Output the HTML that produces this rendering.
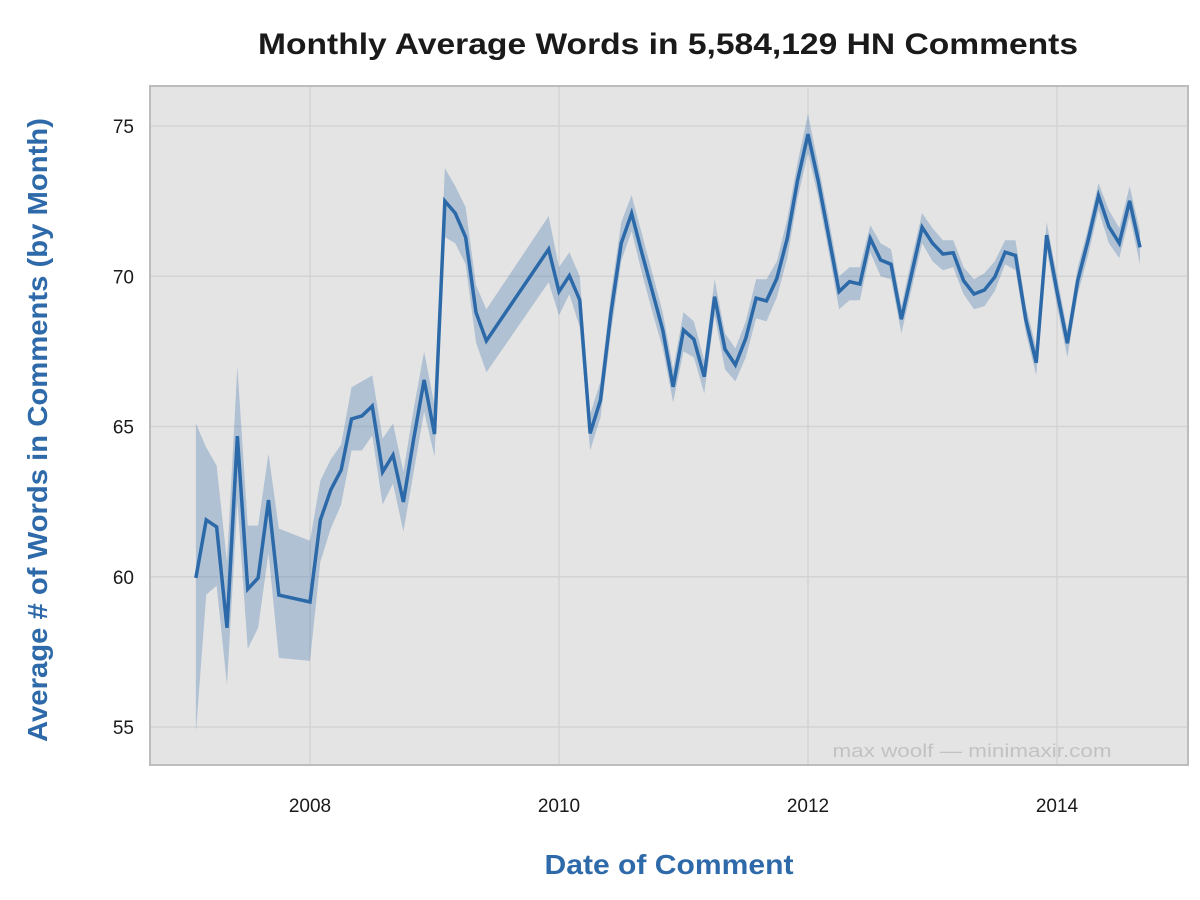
<!DOCTYPE html>
<html><head><meta charset="utf-8"><style>
html,body{margin:0;padding:0;background:#fff;}
svg{display:block;font-family:"Liberation Sans",sans-serif;}
</style></head><body>
<svg id="chart" width="1200" height="900" viewBox="0 0 1200 900">
<rect x="0" y="0" width="1200" height="900" fill="#fff"/>
<text x="668" y="54" text-anchor="middle" font-size="30" font-weight="bold" fill="#1a1a1a" textLength="820" lengthAdjust="spacingAndGlyphs">Monthly Average Words in 5,584,129 HN Comments</text>
<rect x="150" y="86" width="1038" height="679" fill="#e4e4e4" stroke="#bdbdbd" stroke-width="2"/>
<g id="grid"></g>
<g id="band"></g>
<g id="line"></g>
<g id="yticks"></g>
<g id="xticks"></g>
<text x="972" y="757" text-anchor="middle" font-size="18" fill="#c2c2c2" textLength="279" lengthAdjust="spacingAndGlyphs">max woolf — minimaxir.com</text>
<text x="669" y="874" text-anchor="middle" font-size="28" font-weight="bold" fill="#2e6aa9" textLength="249" lengthAdjust="spacingAndGlyphs">Date of Comment</text>
<text transform="translate(47,430) rotate(-90)" text-anchor="middle" font-size="28" font-weight="bold" fill="#2e6aa9" textLength="624" lengthAdjust="spacingAndGlyphs">Average # of Words in Comments (by Month)</text>
</svg>
<script>
const dates = ["2007-02","2007-03","2007-04","2007-05","2007-06","2007-07","2007-08","2007-09","2007-10",
"2008-01","2008-02","2008-03","2008-04","2008-05","2008-06","2008-07","2008-08","2008-09","2008-10","2008-11","2008-12",
"2009-01","2009-02","2009-03","2009-04","2009-05","2009-06","2009-12",
"2010-01","2010-02","2010-03","2010-04","2010-05","2010-06","2010-07","2010-08","2010-09","2010-10","2010-11","2010-12",
"2011-01","2011-02","2011-03","2011-04","2011-05","2011-06","2011-07","2011-08","2011-09","2011-10","2011-11","2011-12",
"2012-01","2012-02","2012-03","2012-04","2012-05","2012-06","2012-07","2012-08","2012-09","2012-10","2012-11","2012-12",
"2013-01","2013-02","2013-03","2013-04","2013-05","2013-06","2013-07","2013-08","2013-09","2013-10","2013-11","2013-12",
"2014-01","2014-02","2014-03","2014-04","2014-05","2014-06","2014-07","2014-08","2014-09"];
const avgWords = [59.96,61.89,61.66,58.3,64.68,59.59,59.96,62.55,59.39,
59.16,61.89,62.89,63.55,65.25,65.35,65.68,63.49,64.05,62.49,64.6,66.55,
64.75,72.5,72.1,71.3,68.8,67.85,70.9,
69.49,70.02,69.21,64.77,65.88,68.77,71.1,72.09,70.76,69.49,68.21,66.32,
68.21,67.9,66.66,69.32,67.57,67.05,67.93,69.27,69.18,69.93,71.26,73.2,
74.73,73.15,71.32,69.49,69.82,69.74,71.26,70.54,70.4,68.57,70.1,71.63,
71.1,70.74,70.78,69.85,69.41,69.54,69.97,70.8,70.69,68.55,67.12,71.37,
69.5,67.77,69.86,71.2,72.68,71.65,71.1,72.51,70.96];
const ciHigh = [65.1,64.3,63.7,60.5,67.0,61.7,61.7,64.1,61.6,
61.2,63.2,63.9,64.4,66.3,66.5,66.7,64.6,65.1,63.5,65.6,67.5,
65.7,73.6,73.0,72.3,69.7,68.9,72.0,
70.3,70.8,70.0,65.4,66.5,69.4,71.8,72.7,71.4,70.1,68.8,66.9,
68.8,68.5,67.2,69.9,68.1,67.6,68.5,69.9,69.9,70.5,71.9,73.8,
75.4,73.7,71.9,70.0,70.3,70.3,71.7,71.1,70.9,69.0,70.6,72.1,
71.6,71.2,71.2,70.3,69.9,70.1,70.5,71.2,71.2,69.0,67.6,71.8,
70.0,68.2,70.3,71.6,73.1,72.2,71.6,73.0,71.5];
const ciLow = [54.8,59.4,59.7,56.4,62.5,57.6,58.3,60.8,57.3,
57.2,60.5,61.6,62.4,64.2,64.2,64.7,62.4,63.1,61.5,63.5,65.5,
64.0,71.3,71.1,70.4,67.8,66.8,69.8,
68.7,69.4,68.3,64.2,65.3,68.1,70.5,71.5,70.1,68.8,67.6,65.8,
67.5,67.3,66.1,68.7,66.9,66.5,67.3,68.6,68.5,69.3,70.6,72.6,
74.1,72.6,70.8,68.9,69.2,69.2,70.8,70.0,69.9,68.1,69.6,71.1,
70.5,70.2,70.3,69.4,68.9,69.0,69.5,70.4,70.2,68.1,66.7,70.9,
69.0,67.3,69.4,70.7,72.2,71.1,70.6,72.0,70.4];
const yTicks = [55,60,65,70,75];
const xTicks = [2008,2010,2012,2014];

const NS = "http://www.w3.org/2000/svg";
const PL = 150, PR = 1188, PT = 86, PB = 765;
const X0 = 310, PXM = 10.375;
function xScale(d){ const p=d.split("-"); return X0 + ((+p[0]-2008)*12 + (+p[1]-1))*PXM; }
function xYear(y){ return X0 + (y-2008)*12*PXM; }
function yScale(v){ return 126 + (75-v)*30.05; }
function mk(tag, attrs, parent){ const e=document.createElementNS(NS,tag); for(const k in attrs) e.setAttribute(k,attrs[k]); parent.appendChild(e); return e; }

const grid = document.getElementById("grid");
const yt = document.getElementById("yticks");
const xt = document.getElementById("xticks");
yTicks.forEach(v=>{
  const l = mk("line",{x1:PL+1,x2:PR-1,y1:yScale(v),y2:yScale(v),stroke:"#d3d3d3","stroke-width":1.5},grid);
  
  
  const t = mk("text",{x:134,y:yScale(v)+7,"text-anchor":"end","font-size":19,fill:"#1a1a1a"},yt);
  t.textContent = v;
  
  
});
xTicks.forEach(y=>{
  const l = mk("line",{x1:xYear(y),x2:xYear(y),y1:PT+1,y2:PB-1,stroke:"#d3d3d3","stroke-width":1.5},grid);
  
  
  const t = mk("text",{x:xYear(y),y:812,"text-anchor":"middle","font-size":19,fill:"#1a1a1a"},xt);
  t.textContent = y;
  
  
});

let up = dates.map((d,i)=>xScale(d)+","+yScale(ciHigh[i]));
let dn = dates.map((d,i)=>xScale(d)+","+yScale(ciLow[i])).reverse();
const band = mk("polygon",{points:up.concat(dn).join(" "),fill:"#2c69a9","fill-opacity":0.28},document.getElementById("band"));



const pts = dates.map((d,i)=>xScale(d)+","+yScale(avgWords[i])).join(" ");
const line = mk("polyline",{points:pts,fill:"none",stroke:"#2c69a9","stroke-width":3.5,"stroke-linejoin":"miter"},document.getElementById("line"));


</script>
</body></html>
